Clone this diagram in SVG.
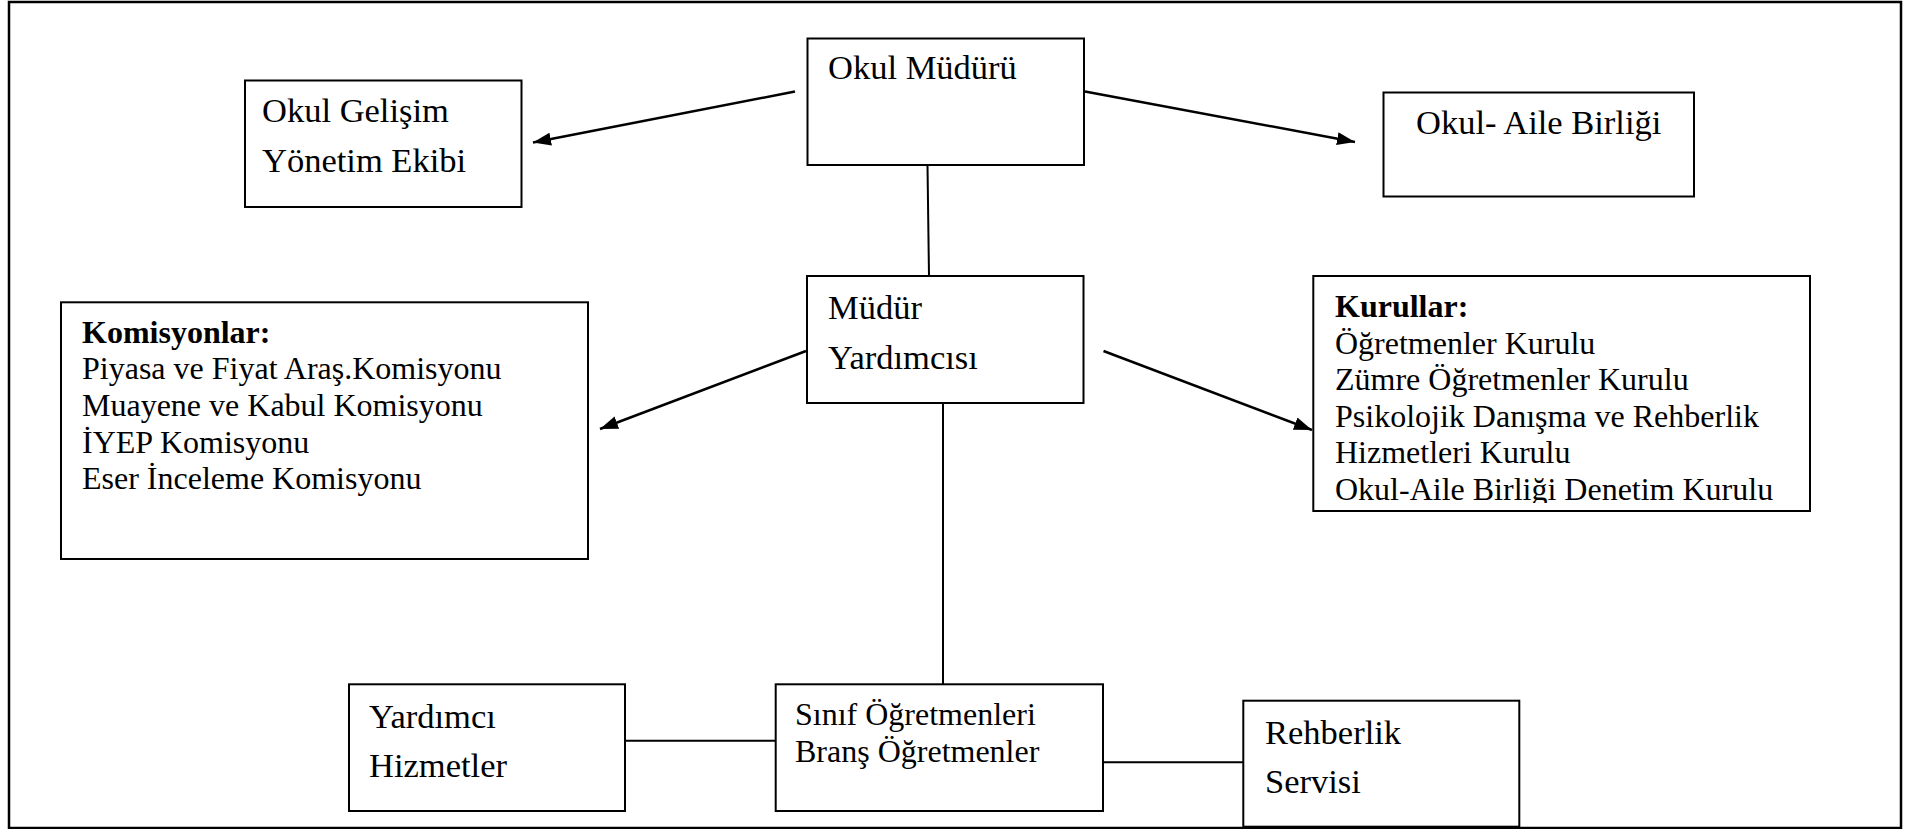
<svg xmlns="http://www.w3.org/2000/svg" width="1910" height="829" viewBox="0 0 1910 829">
<style>
.box{fill:#fff;stroke:#000;stroke-width:2}
.t{font-family:"Liberation Serif","Times New Roman",serif;fill:#000}
.p{font-size:34.5px}
.s{font-size:32px}
.b{font-weight:bold}
.arr{stroke:#000;stroke-width:2.5;fill:none;marker-end:url(#ah)}
.ln{stroke:#000;stroke-width:2;fill:none}
</style>
<defs>
<marker id="ah" markerUnits="userSpaceOnUse" markerWidth="20" markerHeight="14" refX="18" refY="6.5" orient="auto">
<path d="M0,0 L18,6.5 L0,13 Z" fill="#000"/>
</marker>
<clipPath id="kclip"><rect x="1313" y="276" width="497" height="227"/></clipPath>
</defs>
<rect x="0" y="0" width="1910" height="829" fill="#fff"/>
<rect x="9" y="2" width="1892" height="826" fill="none" stroke="#000" stroke-width="2.5"/>

<g id="connectors">
<line class="arr" x1="795" y1="91.5" x2="533" y2="142.5"/>
<line class="arr" x1="1085" y1="91.5" x2="1355" y2="142"/>
<line class="ln" x1="927.5" y1="165" x2="929" y2="276"/>
<line class="arr" x1="806" y1="351" x2="600" y2="429"/>
<line class="arr" x1="1103.5" y1="351" x2="1312" y2="430"/>
<line class="ln" x1="943" y1="403" x2="943" y2="684"/>
<line class="ln" x1="625" y1="740.7" x2="776" y2="740.7"/>
<line class="ln" x1="1103" y1="762.3" x2="1243" y2="762.3"/>
</g>

<g id="okul-muduru">
<rect class="box" x="807.5" y="38.5" width="276.5" height="126.5"/>
<text class="t p" x="828" y="79">Okul Müdürü</text>
</g>

<g id="okul-gelisim">
<rect class="box" x="245" y="80.5" width="276.5" height="126.5"/>
<text class="t p" x="262" y="122">Okul Gelişim</text>
<text class="t p" x="262" y="172">Yönetim Ekibi</text>
</g>

<g id="okul-aile">
<rect class="box" x="1383.5" y="92.5" width="310.5" height="104"/>
<text class="t p" x="1416" y="133.5">Okul- Aile Birliği</text>
</g>

<g id="mudur-yardimcisi">
<rect class="box" x="807" y="276" width="276.5" height="127"/>
<text class="t p" x="828" y="319">Müdür</text>
<text class="t p" x="828" y="368.5">Yardımcısı</text>
</g>

<g id="komisyonlar">
<rect class="box" x="61" y="302.3" width="527" height="256.7"/>
<text class="t s b" x="82" y="342.5">Komisyonlar:</text>
<text class="t s" x="82" y="379.2">Piyasa ve Fiyat Araş.Komisyonu</text>
<text class="t s" x="82" y="415.9">Muayene ve Kabul Komisyonu</text>
<text class="t s" x="82" y="452.6">İYEP Komisyonu</text>
<text class="t s" x="82" y="489.3">Eser İnceleme Komisyonu</text>
</g>

<g id="kurullar">
<rect class="box" x="1313.3" y="276" width="496.7" height="235"/>
<g clip-path="url(#kclip)">
<text class="t s b" x="1335" y="317.3">Kurullar:</text>
<text class="t s" x="1335" y="353.8">Öğretmenler Kurulu</text>
<text class="t s" x="1335" y="390.3">Zümre Öğretmenler Kurulu</text>
<text class="t s" x="1335" y="426.8">Psikolojik Danışma ve Rehberlik</text>
<text class="t s" x="1335" y="463.3">Hizmetleri Kurulu</text>
<text class="t s" x="1335" y="500">Okul-Aile Birliği Denetim Kurulu</text>
</g>
</g>

<g id="yardimci-hizmetler">
<rect class="box" x="349" y="684.3" width="276" height="126.7"/>
<text class="t p" x="369" y="728.3">Yardımcı</text>
<text class="t p" x="369" y="776.7">Hizmetler</text>
</g>

<g id="sinif-ogretmenleri">
<rect class="box" x="775.7" y="684.3" width="327.3" height="126.7"/>
<text class="t s" x="795" y="725">Sınıf Öğretmenleri</text>
<text class="t s" x="795" y="761.7">Branş Öğretmenler</text>
</g>

<g id="rehberlik-servisi">
<rect class="box" x="1243.3" y="700.7" width="276" height="126"/>
<text class="t p" x="1265" y="744.3">Rehberlik</text>
<text class="t p" x="1265" y="792.7">Servisi</text>
</g>
</svg>
